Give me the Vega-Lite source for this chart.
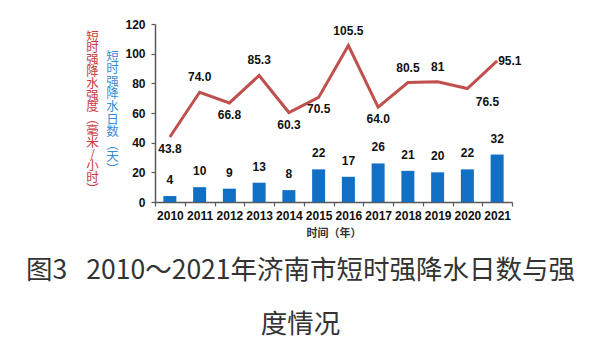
{
  "$schema": "https://vega.github.io/schema/vega-lite/v6.json",
  "width": 357,
  "height": 178,
  "autosize": {"type": "none"},
  "padding": {"left": 155, "top": 24, "right": 88, "bottom": 158},
  "background": "white",
  "config": {
    "view": {"stroke": null},
    "font": "Liberation Sans",
    "axis": {"grid": false, "domainColor": "#595959", "domainWidth": 1.5, "tickColor": "#595959", "tickWidth": 1.2, "labelFont": "Liberation Sans", "labelFontWeight": "bold", "labelFontSize": 12, "labelColor": "#111"}
  },
  "title": {
    "text": ["图3\u2002 2010～2021年济南市短时强降水日数与强", "度情况"],
    "orient": "bottom",
    "anchor": "middle",
    "frame": "group",
    "dx": -33,
    "offset": 20,
    "font": "Noto Sans CJK SC",
    "fontSize": 26.5,
    "fontWeight": "normal",
    "lineHeight": 54,
    "color": "#333333"
  },
  "data": {"values": [
    {"year": "2010", "days": 4, "intensity": 43.8, "label": "43.8"},
    {"year": "2011", "days": 10, "intensity": 74.0, "label": "74.0"},
    {"year": "2012", "days": 9, "intensity": 66.8, "label": "66.8"},
    {"year": "2013", "days": 13, "intensity": 85.3, "label": "85.3"},
    {"year": "2014", "days": 8, "intensity": 60.3, "label": "60.3"},
    {"year": "2015", "days": 22, "intensity": 70.5, "label": "70.5"},
    {"year": "2016", "days": 17, "intensity": 105.5, "label": "105.5"},
    {"year": "2017", "days": 26, "intensity": 64.0, "label": "64.0"},
    {"year": "2018", "days": 21, "intensity": 80.5, "label": "80.5"},
    {"year": "2019", "days": 20, "intensity": 81, "label": "81"},
    {"year": "2020", "days": 22, "intensity": 76.5, "label": "76.5"},
    {"year": "2021", "days": 32, "intensity": 95.1, "label": "95.1"}
  ]},
  "encoding": {
    "x": {
      "field": "year", "type": "ordinal",
      "scale": {"paddingInner": 0, "paddingOuter": 0},
      "axis": {
        "title": "时间（年）", "titleFont": "Noto Sans CJK SC", "titleFontSize": 11, "titleFontWeight": "bold", "titleColor": "#333", "titlePadding": 6,
        "labelAngle": 0, "tickBand": "extent", "tickSize": 4, "labelPadding": 4
      }
    }
  },
  "layer": [
    {
      "mark": {"type": "bar", "size": 13, "color": "#1170C4"},
      "encoding": {
        "y": {
          "field": "days", "type": "quantitative",
          "scale": {"domain": [0, 120], "nice": false},
          "axis": {
            "orient": "left",
            "values": [0, 20, 40, 60, 80, 100, 120],
            "tickSize": 4, "labelPadding": 6,
            "title": ["短", "时", "强", "降", "水", "日", "数", "︵", "天", "︶"],
            "titleAngle": 0, "titleAlign": "center", "titleBaseline": "top",
            "titleX": -43, "titleY": 26,
            "titleFont": "Noto Sans CJK SC", "titleFontSize": 12.5, "titleFontWeight": "normal",
            "titleColor": "#3A8AD0", "titleLineHeight": 12.6
          }
        }
      }
    },
    {
      "mark": {"type": "line", "color": "#C0504D", "strokeWidth": 3},
      "encoding": {
        "y": {
          "field": "intensity", "type": "quantitative",
          "axis": {
            "orient": "left",
            "labels": false, "ticks": false, "domain": false,
            "title": ["短", "时", "强", "降", "水", "强", "度", "︵", "毫", "米", "/", "小", "时", "︶"],
            "titleAngle": 0, "titleAlign": "center", "titleBaseline": "top",
            "titleX": -63, "titleY": 6,
            "titleFont": "Noto Sans CJK SC", "titleFontSize": 12.5, "titleFontWeight": "normal",
            "titleColor": "#C8383C", "titleLineHeight": 11.8
          }
        }
      }
    },
    {
      "mark": {"type": "text", "dy": -9, "baseline": "bottom", "fontWeight": "bold", "fontSize": 12, "color": "#111"},
      "encoding": {
        "y": {"field": "days", "type": "quantitative", "axis": null},
        "text": {"field": "days"}
      }
    },
    {
      "transform": [{"filter": "indexof(['2011','2013','2016','2018','2019'], datum.year) >= 0"}],
      "mark": {"type": "text", "dy": -8, "baseline": "bottom", "fontWeight": "bold", "fontSize": 12, "color": "#111"},
      "encoding": {
        "y": {"field": "intensity", "type": "quantitative", "axis": null},
        "text": {"field": "label"}
      }
    },
    {
      "transform": [{"filter": "indexof(['2010','2012','2014','2015','2017'], datum.year) >= 0"}],
      "mark": {"type": "text", "dy": 7, "baseline": "top", "fontWeight": "bold", "fontSize": 12, "color": "#111"},
      "encoding": {
        "y": {"field": "intensity", "type": "quantitative", "axis": null},
        "text": {"field": "label"}
      }
    },
    {
      "transform": [{"filter": "datum.year == '2020'"}],
      "mark": {"type": "text", "dy": 8, "dx": 20, "baseline": "top", "fontWeight": "bold", "fontSize": 12, "color": "#111"},
      "encoding": {
        "y": {"field": "intensity", "type": "quantitative", "axis": null},
        "text": {"field": "label"}
      }
    },
    {
      "transform": [{"filter": "datum.year == '2021'"}],
      "mark": {"type": "text", "dx": 1, "align": "left", "baseline": "middle", "fontWeight": "bold", "fontSize": 12, "color": "#111"},
      "encoding": {
        "y": {"field": "intensity", "type": "quantitative", "axis": null},
        "text": {"field": "label"}
      }
    }
  ],
  "resolve": {"axis": {"y": "independent"}}
}
